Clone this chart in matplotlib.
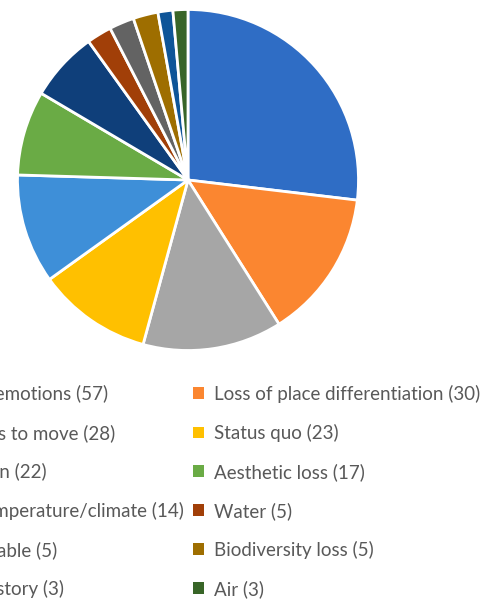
import matplotlib.pyplot as plt
from matplotlib.patches import Patch

# Slice categories (the left legend column is cut off in the reference)
labels = ['Negative emotions', 'Loss of place differentiation', 'Businesses to move',
          'Status quo', 'Congestion', 'Aesthetic loss', 'Higher temperature/climate',
          'Water', 'Uninhabitable', 'Biodiversity loss', 'Human history', 'Air']
counts = [57, 30, 28, 23, 22, 17, 14, 5, 5, 5, 3, 3]
colors = ['#2F6DC5', '#FB8630', '#A6A6A6', '#FFC000', '#3E8FD8', '#6AAB45',
          '#0F3F7A', '#A13F08', '#636363', '#9E6E00', '#0E5598', '#386528']

plt.rcParams['font.family'] = ['Lato', 'DejaVu Sans']

fig = plt.figure(figsize=(4.9, 6), dpi=100)

# pie centred at (188, 180) px from top-left
cx, cy, r = 188, 180, 170.5
ax = fig.add_axes([(cx - r) / 490, (600 - cy - r) / 600, 2 * r / 490, 2 * r / 600])
ax.pie(counts, colors=colors, startangle=90, counterclock=False,
       wedgeprops=dict(edgecolor='white', linewidth=2))
ax.set_xlim(-1, 1)
ax.set_ylim(-1, 1)

# legend is laid out row by row, matplotlib fills column by column
order = list(range(0, 12, 2)) + list(range(1, 12, 2))
handles = [Patch(facecolor=colors[i], edgecolor='none') for i in order]
texts = [f'{labels[i]} ({counts[i]})' for i in order]
fig.legend(handles, texts, ncol=2, loc='upper left',
           bbox_to_anchor=(-0.233, 0.374), frameon=False,
           fontsize=13.5, labelcolor='#595959',
           handlelength=0.6, handleheight=0.6, handletextpad=0.5,
           columnspacing=0.5, labelspacing=1.12, borderpad=0)

fig.savefig('out.png', dpi=100)
